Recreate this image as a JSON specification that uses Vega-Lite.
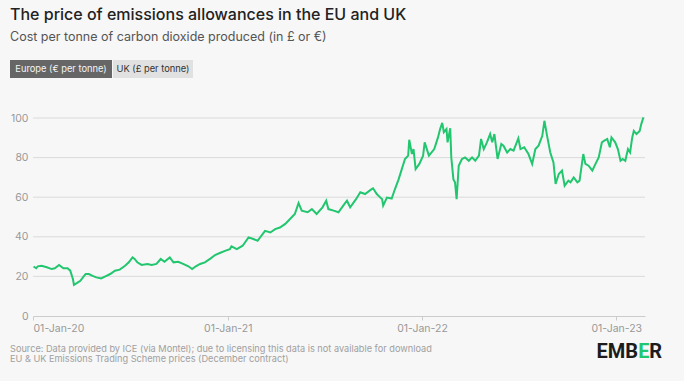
{
  "$schema": "https://vega.github.io/schema/vega-lite/v6.json",
  "background": "#f7f7f7",
  "padding": {"left": 10, "top": 6, "right": 22, "bottom": 17},
  "config": {"view": {"stroke": null}, "font": "Inter"},
  "title": {
    "text": "The price of emissions allowances in the EU and UK",
    "subtitle": "Cost per tonne of carbon dioxide produced (in £ or €)",
    "anchor": "start",
    "font": "Inter",
    "fontSize": 16,
    "fontWeight": 500,
    "color": "#222222",
    "subtitleFont": "Inter",
    "subtitleFontSize": 12.5,
    "subtitleColor": "#555555",
    "subtitlePadding": 8,
    "offset": 17
  },
  "datasets": {
    "buttons": [
      {"label": "Europe (€ per tonne)", "selected": true},
      {"label": "UK (£ per tonne)", "selected": false}
    ],
    "footer": [
      {"text": "Source: Data provided by ICE (via Montel); due to licensing this data is not available for download", "line": 1},
      {"text": "EU & UK Emissions Trading Scheme prices (December contract)", "line": 2}
    ],
    "logo": [
      {"part": "EMB"},
      {"part": "E"},
      {"part": "R"}
    ],
    "grid": [
      {"price": 20}, {"price": 40}, {"price": 60}, {"price": 80}, {"price": 100}
    ],
    "prices": [
      {"date": "2020-01-02", "price": 25.0},
      {"date": "2020-01-07", "price": 24.1},
      {"date": "2020-01-10", "price": 25.1},
      {"date": "2020-01-17", "price": 25.4},
      {"date": "2020-01-27", "price": 24.6},
      {"date": "2020-02-05", "price": 23.7},
      {"date": "2020-02-11", "price": 24.1},
      {"date": "2020-02-19", "price": 25.8},
      {"date": "2020-02-27", "price": 24.1},
      {"date": "2020-03-06", "price": 24.1},
      {"date": "2020-03-11", "price": 22.9},
      {"date": "2020-03-16", "price": 18.7},
      {"date": "2020-03-18", "price": 15.7},
      {"date": "2020-03-24", "price": 16.7},
      {"date": "2020-03-30", "price": 17.8},
      {"date": "2020-04-06", "price": 20.3},
      {"date": "2020-04-09", "price": 21.2},
      {"date": "2020-04-15", "price": 21.2},
      {"date": "2020-04-22", "price": 20.3},
      {"date": "2020-04-29", "price": 19.5},
      {"date": "2020-05-08", "price": 19.0},
      {"date": "2020-05-18", "price": 20.3},
      {"date": "2020-05-25", "price": 21.2},
      {"date": "2020-06-03", "price": 22.9},
      {"date": "2020-06-12", "price": 23.4},
      {"date": "2020-06-22", "price": 25.4},
      {"date": "2020-06-29", "price": 27.1},
      {"date": "2020-07-06", "price": 29.6},
      {"date": "2020-07-10", "price": 28.8},
      {"date": "2020-07-15", "price": 27.1},
      {"date": "2020-07-23", "price": 25.8},
      {"date": "2020-08-03", "price": 26.3},
      {"date": "2020-08-11", "price": 25.8},
      {"date": "2020-08-20", "price": 26.3},
      {"date": "2020-08-28", "price": 28.8},
      {"date": "2020-09-04", "price": 27.4},
      {"date": "2020-09-14", "price": 29.6},
      {"date": "2020-09-21", "price": 27.1},
      {"date": "2020-09-30", "price": 27.4},
      {"date": "2020-10-09", "price": 26.3},
      {"date": "2020-10-19", "price": 25.1},
      {"date": "2020-10-26", "price": 23.7},
      {"date": "2020-11-02", "price": 25.1},
      {"date": "2020-11-10", "price": 26.3},
      {"date": "2020-11-19", "price": 27.1},
      {"date": "2020-11-30", "price": 29.1},
      {"date": "2020-12-08", "price": 30.8},
      {"date": "2020-12-17", "price": 31.8},
      {"date": "2020-12-28", "price": 33.0},
      {"date": "2021-01-05", "price": 33.8},
      {"date": "2021-01-08", "price": 35.2},
      {"date": "2021-01-18", "price": 33.8},
      {"date": "2021-01-29", "price": 35.5},
      {"date": "2021-02-09", "price": 39.7},
      {"date": "2021-02-18", "price": 38.9},
      {"date": "2021-02-26", "price": 38.0},
      {"date": "2021-03-12", "price": 43.0},
      {"date": "2021-03-22", "price": 42.2},
      {"date": "2021-03-31", "price": 43.9},
      {"date": "2021-04-09", "price": 44.7},
      {"date": "2021-04-19", "price": 46.5},
      {"date": "2021-04-28", "price": 49.0},
      {"date": "2021-05-07", "price": 51.5},
      {"date": "2021-05-14", "price": 57.0},
      {"date": "2021-05-20", "price": 53.2},
      {"date": "2021-05-31", "price": 52.4},
      {"date": "2021-06-08", "price": 54.0},
      {"date": "2021-06-17", "price": 51.5},
      {"date": "2021-06-28", "price": 54.9},
      {"date": "2021-07-05", "price": 58.2},
      {"date": "2021-07-09", "price": 54.0},
      {"date": "2021-07-19", "price": 53.2},
      {"date": "2021-07-28", "price": 52.4},
      {"date": "2021-08-06", "price": 55.7},
      {"date": "2021-08-13", "price": 58.2},
      {"date": "2021-08-19", "price": 54.9},
      {"date": "2021-08-30", "price": 59.0},
      {"date": "2021-09-07", "price": 62.5},
      {"date": "2021-09-16", "price": 61.6},
      {"date": "2021-09-27", "price": 63.8},
      {"date": "2021-10-01", "price": 64.5},
      {"date": "2021-10-08", "price": 61.6},
      {"date": "2021-10-11", "price": 60.8},
      {"date": "2021-10-18", "price": 59.0},
      {"date": "2021-10-20", "price": 55.7},
      {"date": "2021-10-27", "price": 59.8},
      {"date": "2021-11-05", "price": 59.3},
      {"date": "2021-11-11", "price": 64.0},
      {"date": "2021-11-18", "price": 69.0},
      {"date": "2021-11-24", "price": 74.2},
      {"date": "2021-11-30", "price": 79.3},
      {"date": "2021-12-06", "price": 81.0},
      {"date": "2021-12-08", "price": 89.0},
      {"date": "2021-12-13", "price": 81.8},
      {"date": "2021-12-16", "price": 84.3},
      {"date": "2021-12-20", "price": 74.2},
      {"date": "2021-12-27", "price": 76.8},
      {"date": "2022-01-03", "price": 81.0},
      {"date": "2022-01-06", "price": 87.7},
      {"date": "2022-01-10", "price": 84.3},
      {"date": "2022-01-14", "price": 81.0},
      {"date": "2022-01-24", "price": 84.3},
      {"date": "2022-01-31", "price": 90.2},
      {"date": "2022-02-04", "price": 94.4},
      {"date": "2022-02-08", "price": 97.5},
      {"date": "2022-02-11", "price": 92.8},
      {"date": "2022-02-16", "price": 94.4},
      {"date": "2022-02-18", "price": 87.7},
      {"date": "2022-02-23", "price": 94.8},
      {"date": "2022-02-25", "price": 80.1},
      {"date": "2022-03-01", "price": 69.0},
      {"date": "2022-03-04", "price": 67.5},
      {"date": "2022-03-07", "price": 59.0},
      {"date": "2022-03-11", "price": 75.9},
      {"date": "2022-03-17", "price": 79.3},
      {"date": "2022-03-23", "price": 80.1},
      {"date": "2022-03-30", "price": 78.4},
      {"date": "2022-04-05", "price": 80.1},
      {"date": "2022-04-11", "price": 78.4},
      {"date": "2022-04-18", "price": 81.0},
      {"date": "2022-04-22", "price": 89.4},
      {"date": "2022-04-27", "price": 84.3},
      {"date": "2022-05-03", "price": 87.7},
      {"date": "2022-05-09", "price": 91.9},
      {"date": "2022-05-13", "price": 87.7},
      {"date": "2022-05-17", "price": 91.9},
      {"date": "2022-05-23", "price": 79.3},
      {"date": "2022-05-30", "price": 86.9},
      {"date": "2022-06-03", "price": 86.0},
      {"date": "2022-06-10", "price": 82.6},
      {"date": "2022-06-16", "price": 84.3},
      {"date": "2022-06-22", "price": 83.5},
      {"date": "2022-07-01", "price": 89.7},
      {"date": "2022-07-05", "price": 84.3},
      {"date": "2022-07-12", "price": 85.2},
      {"date": "2022-07-20", "price": 81.8},
      {"date": "2022-07-27", "price": 76.8},
      {"date": "2022-08-02", "price": 84.3},
      {"date": "2022-08-08", "price": 86.0},
      {"date": "2022-08-15", "price": 91.0},
      {"date": "2022-08-19", "price": 98.6},
      {"date": "2022-08-24", "price": 91.0},
      {"date": "2022-08-30", "price": 82.6},
      {"date": "2022-09-05", "price": 77.6},
      {"date": "2022-09-09", "price": 66.7},
      {"date": "2022-09-15", "price": 71.7},
      {"date": "2022-09-21", "price": 73.4},
      {"date": "2022-09-26", "price": 65.8},
      {"date": "2022-10-03", "price": 68.3},
      {"date": "2022-10-07", "price": 67.5},
      {"date": "2022-10-13", "price": 70.0},
      {"date": "2022-10-20", "price": 67.5},
      {"date": "2022-10-24", "price": 68.3},
      {"date": "2022-10-31", "price": 81.8},
      {"date": "2022-11-04", "price": 76.8},
      {"date": "2022-11-10", "price": 75.9},
      {"date": "2022-11-17", "price": 73.4},
      {"date": "2022-11-23", "price": 76.8},
      {"date": "2022-11-29", "price": 80.1},
      {"date": "2022-12-05", "price": 87.7},
      {"date": "2022-12-09", "price": 88.5},
      {"date": "2022-12-15", "price": 89.4},
      {"date": "2022-12-20", "price": 85.2},
      {"date": "2022-12-23", "price": 90.2},
      {"date": "2022-12-30", "price": 87.7},
      {"date": "2023-01-04", "price": 84.3},
      {"date": "2023-01-09", "price": 78.4},
      {"date": "2023-01-13", "price": 79.3},
      {"date": "2023-01-18", "price": 78.4},
      {"date": "2023-01-23", "price": 84.3},
      {"date": "2023-01-27", "price": 82.6},
      {"date": "2023-01-31", "price": 90.2},
      {"date": "2023-02-03", "price": 93.5},
      {"date": "2023-02-08", "price": 91.9},
      {"date": "2023-02-14", "price": 93.5},
      {"date": "2023-02-17", "price": 96.9},
      {"date": "2023-02-21", "price": 100.3}
    ]
  },
  "spacing": 35,
  "vconcat": [
    {
      "spacing": 1,
      "hconcat": [
        {
          "width": 102,
          "height": 18,
          "view": {"fill": "#666666", "stroke": null},
          "data": {"name": "buttons"},
          "transform": [{"filter": "datum.selected"}],
          "mark": {"type": "text", "color": "#f4f4f4", "fontSize": 9.3, "font": "Inter", "baseline": "middle", "align": "center"},
          "encoding": {"text": {"field": "label"}}
        },
        {
          "width": 80,
          "height": 18,
          "view": {"fill": "#e1e1e1", "stroke": null},
          "data": {"name": "buttons"},
          "transform": [{"filter": "!datum.selected"}],
          "mark": {"type": "text", "color": "#333333", "fontSize": 9.3, "font": "Inter", "baseline": "middle", "align": "center"},
          "encoding": {"text": {"field": "label"}}
        }
      ]
    },
    {
      "spacing": 8,
      "vconcat": [
        {
          "width": 635,
          "height": 198,
          "encoding": {
            "y": {
              "field": "price",
              "type": "quantitative",
              "scale": {"domain": [0, 100]},
              "axis": {
                "values": [0, 20, 40, 60, 80, 100],
                "title": null,
                "domain": false,
                "ticks": false,
                "grid": false,
                "offset": -23,
                "labelColor": "#999999",
                "labelFontSize": 10.5,
                "labelFont": "Inter",
                "labelPadding": 5
              }
            }
          },
          "layer": [
            {
              "data": {"name": "grid"},
              "mark": {"type": "rule", "color": "#dadada", "strokeWidth": 1},
              "encoding": {
                "x": {"datum": {"year": 2020, "month": 1, "date": 1, "utc": true}, "type": "temporal"},
                "x2": {"datum": {"year": 2023, "month": 2, "date": 24, "utc": true}}
              }
            },
            {
              "data": {"name": "prices"},
              "mark": {"type": "line", "color": "#22c66f", "strokeWidth": 2, "clip": false},
              "encoding": {
                "x": {
                  "field": "date",
                  "type": "temporal",
                  "scale": {
                    "type": "utc",
                    "range": [23, 635],
                    "domain": [
                      {"year": 2020, "month": 1, "date": 1, "utc": true},
                      {"year": 2023, "month": 2, "date": 24, "utc": true}
                    ]
                  },
                  "axis": {
                    "values": [
                      {"year": 2020, "month": 1, "date": 1, "utc": true},
                      {"year": 2021, "month": 1, "date": 1, "utc": true},
                      {"year": 2022, "month": 1, "date": 1, "utc": true},
                      {"year": 2023, "month": 1, "date": 1, "utc": true}
                    ],
                    "labelExpr": "utcFormat(datum.value, '%d-%b-%y')",
                    "title": null,
                    "grid": false,
                    "domainColor": "#cccccc",
                    "tickColor": "#cccccc",
                    "tickSize": 4,
                    "labelColor": "#999999",
                    "labelFontSize": 10.5,
                    "labelFont": "Inter",
                    "labelPadding": 3
                  }
                }
              }
            }
          ]
        },
        {
          "width": 652,
          "height": 22,
          "layer": [
            {
              "data": {"name": "footer"},
              "mark": {"type": "text", "align": "left", "baseline": "middle", "fontSize": 9.2, "font": "Inter", "color": "#a0a0a0"},
              "encoding": {
                "x": {"datum": 0, "type": "quantitative", "scale": {"domain": [0, 1]}, "axis": null},
                "y": {"field": "line", "type": "quantitative", "scale": {"domain": [0.5, 2.5], "reverse": true}, "axis": null},
                "text": {"field": "text"}
              }
            },
            {
              "data": {"name": "logo"},
              "transform": [{"filter": "datum.part === 'EMB'"}],
              "mark": {"type": "text", "align": "right", "baseline": "middle", "fontSize": 20, "font": "Roboto", "fontWeight": "bold", "color": "#1c1c1c", "dx": -24},
              "encoding": {
                "x": {"datum": 1, "type": "quantitative"},
                "y": {"datum": 1.3, "type": "quantitative"},
                "text": {"field": "part"}
              }
            },
            {
              "data": {"name": "logo"},
              "transform": [{"filter": "datum.part === 'E'"}],
              "mark": {"type": "text", "align": "right", "baseline": "middle", "fontSize": 20, "font": "Roboto", "fontWeight": "bold", "color": "#22c66f", "dx": -12.4},
              "encoding": {
                "x": {"datum": 1, "type": "quantitative"},
                "y": {"datum": 1.3, "type": "quantitative"},
                "text": {"field": "part"}
              }
            },
            {
              "data": {"name": "logo"},
              "transform": [{"filter": "datum.part === 'R'"}],
              "mark": {"type": "text", "align": "right", "baseline": "middle", "fontSize": 20, "font": "Roboto", "fontWeight": "bold", "color": "#1c1c1c"},
              "encoding": {
                "x": {"datum": 1, "type": "quantitative"},
                "y": {"datum": 1.3, "type": "quantitative"},
                "text": {"field": "part"}
              }
            }
          ]
        }
      ]
    }
  ]
}
